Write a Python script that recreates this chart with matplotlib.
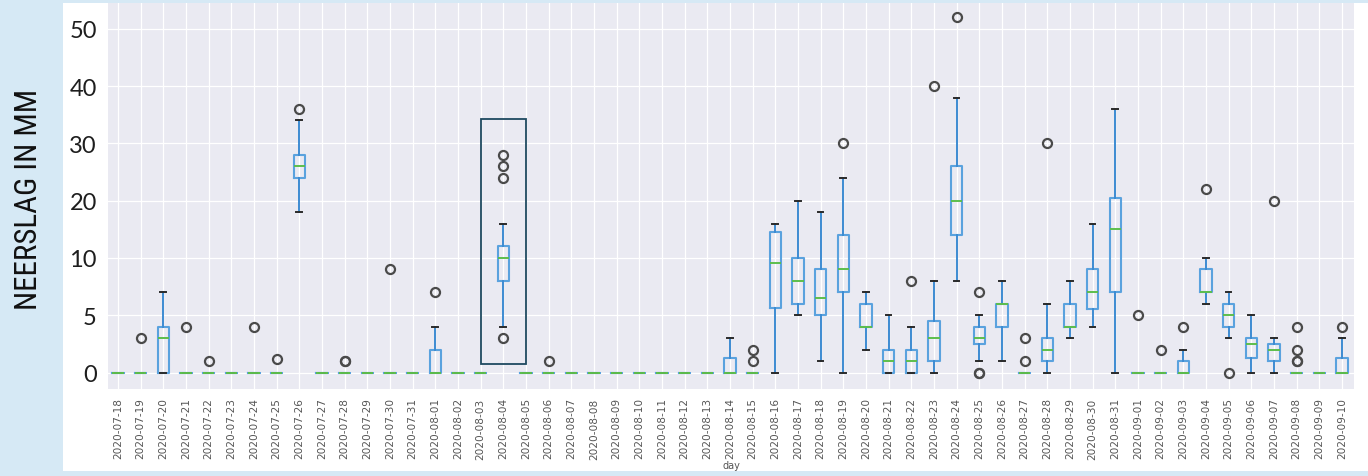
import numpy as np
import matplotlib
matplotlib.use("Agg")
import matplotlib.pyplot as plt
from matplotlib import font_manager
from matplotlib.patches import Rectangle

# Days (one box per day)
days = ["2020-07-18", "2020-07-19", "2020-07-20", "2020-07-21", "2020-07-22", "2020-07-23",
        "2020-07-24", "2020-07-25", "2020-07-26", "2020-07-27", "2020-07-28", "2020-07-29",
        "2020-07-30", "2020-07-31", "2020-08-01", "2020-08-02", "2020-08-03", "2020-08-04",
        "2020-08-05", "2020-08-06", "2020-08-07", "2020-08-08", "2020-08-09", "2020-08-10",
        "2020-08-11", "2020-08-12", "2020-08-13", "2020-08-14", "2020-08-15", "2020-08-16",
        "2020-08-17", "2020-08-18", "2020-08-19", "2020-08-20", "2020-08-21", "2020-08-22",
        "2020-08-23", "2020-08-24", "2020-08-25", "2020-08-26", "2020-08-27", "2020-08-28",
        "2020-08-29", "2020-08-30", "2020-08-31", "2020-09-01", "2020-09-02", "2020-09-03",
        "2020-09-04", "2020-09-05", "2020-09-06", "2020-09-07", "2020-09-08", "2020-09-09",
        "2020-09-10"]

# Box statistics per day (mm)
q1 = [0, 0, 0, 0, 0, 0, 0, 0, 24, 0, 0, 0, 0, 0, 0, 0, 0, 8, 0, 0, 0, 0, 0, 0, 0, 0, 0, 0,
      0, 5.6, 6, 5, 7, 4, 0, 0, 1, 14, 2.5, 4, 0, 1, 4, 5.5, 7, 0, 0, 0, 7, 4, 1.3, 1, 0, 0, 0]
med = [0, 0, 3, 0, 0, 0, 0, 0, 26, 0, 0, 0, 0, 0, 0, 0, 0, 10, 0, 0, 0, 0, 0, 0, 0, 0, 0, 0,
       0, 9.6, 8, 6.5, 9, 4, 1, 1, 3, 20, 3, 6, 0, 2, 4, 7, 15, 0, 0, 0, 7, 5, 2.5, 2, 0, 0, 0]
q3 = [0, 0, 4, 0, 0, 0, 0, 0, 28, 0, 0, 0, 0, 0, 2, 0, 0, 12, 0, 0, 0, 0, 0, 0, 0, 0, 0, 1.3,
      0, 14.5, 10, 9, 14, 6, 2, 2, 4.5, 26, 4, 6, 0, 3, 6, 9, 20.5, 0, 0, 1, 9, 6, 3, 2.5, 0, 0, 1.3]
whislo = [0, 0, 0, 0, 0, 0, 0, 0, 18, 0, 0, 0, 0, 0, 0, 0, 0, 4, 0, 0, 0, 0, 0, 0, 0, 0, 0, 0,
          0, 0, 5, 1, 0, 2, 0, 0, 0, 8, 1, 1, 0, 0, 3, 4, 0, 0, 0, 0, 6, 3, 0, 0, 0, 0, 0]
whishi = [0, 0, 7, 0, 0, 0, 0, 0, 34, 0, 0, 0, 0, 0, 4, 0, 0, 16, 0, 0, 0, 0, 0, 0, 0, 0, 0, 3,
          0, 16, 20, 18, 24, 7, 5, 4, 8, 38, 5, 8, 0, 6, 8, 16, 36, 0, 0, 2, 10, 7, 5, 3, 0, 0, 3]
fliers = [[], [3], [], [4], [1], [], [4], [1.2], [36], [], [1, 1], [], [9], [], [7], [], [],
          [28, 26, 24, 3], [], [1], [], [], [], [], [], [], [], [], [2, 1], [], [], [], [30], [],
          [], [8], [40], [52], [7, 0, 0], [], [3, 1], [30], [], [], [], [5], [2], [4], [22], [0],
          [], [20], [4, 2, 1, 1], [], [4]]

y_ticks = [0, 5, 10, 20, 30, 40, 50]
highlight_day = "2020-08-04"


def fwd(v):
    v = np.asarray(v, dtype=float)
    return np.where(v <= 10, v, 10 + (v - 10) / 2)


def inv(t):
    t = np.asarray(t, dtype=float)
    return np.where(t <= 10, t, 10 + 2 * (t - 10))


def pick_font(names, default):
    installed = {f.name for f in font_manager.fontManager.ttflist}
    for n in names:
        if n in installed:
            return n
    return default


narrow = pick_font(["Liberation Sans Narrow", "DejaVu Sans Condensed", "Roboto Condensed"], "Lato")

fig = plt.figure(figsize=(13.68, 4.77), dpi=100, facecolor="#D6E9F5")
# white card behind the chart
fig.patches.append(Rectangle((62.7 / 1368, 5 / 477), 1 - 62.7 / 1368, 468 / 477,
                             transform=fig.transFigure, facecolor="white", edgecolor="none", zorder=-10))

ax = fig.add_axes([108 / 1368, 87 / 477, (1354 - 108) / 1368, 386 / 477])
ax.set_zorder(1)
ax.set_facecolor("#EAEAF2")
for s in ax.spines.values():
    s.set_visible(False)
ax.set_yscale("function", functions=(fwd, inv))

stats = []
for i, d in enumerate(days):
    stats.append(dict(label=d, q1=q1[i], med=med[i], q3=q3[i],
                      whislo=whislo[i], whishi=whishi[i], fliers=fliers[i]))

ax.bxp(stats, widths=0.5, patch_artist=False,
       boxprops=dict(color="#5AA2DE", linewidth=1.5),
       whiskerprops=dict(color="#3D8BD2", linewidth=1.4),
       capprops=dict(color="#2A2A2A", linewidth=1.4),
       medianprops=dict(color="#5DBE4C", linewidth=1.4),
       flierprops=dict(marker="o", markerfacecolor="none", markeredgecolor="#4A4A4A",
                       markersize=6.5, markeredgewidth=1.6))

ax.set_xlim(0.56, len(days) + 0.53)
ax.set_ylim(-1.44, 54.5)
ax.set_yticks(y_ticks)
ax.set_yticklabels([str(t) for t in y_ticks])
ax.grid(True, color="white", linewidth=0.9)
ax.set_axisbelow(True)

ax.tick_params(axis="y", length=0, pad=8, labelsize=17, labelcolor="#1E1E1E")
for lbl in ax.get_yticklabels():
    lbl.set_fontfamily("Lato")
ax.tick_params(axis="x", length=0, pad=6, labelsize=7.6, labelcolor="#555555", labelrotation=90)
ax.set_xlabel("day", fontsize=7, color="#555555", labelpad=1)

# frame around the highlighted day
hx = days.index(highlight_day) + 1
ax.add_patch(Rectangle((hx - 1.0, 0.74), 2.0, 34.3 - 0.74, fill=False,
                       edgecolor="#1F4A60", linewidth=1.3, zorder=5))

# y label, fitted to the length of the original lettering
ylab = fig.text(29 / 1368, 1 - 199 / 477, "NEERSLAG IN MM", rotation=90, ha="center", va="center",
                fontfamily=narrow, fontsize=30, color="#111111")
fig.canvas.draw()
h = ylab.get_window_extent().height
ylab.set_fontsize(30 * 222 / h)

fig.savefig("out.png", dpi=100, facecolor=fig.get_facecolor())
